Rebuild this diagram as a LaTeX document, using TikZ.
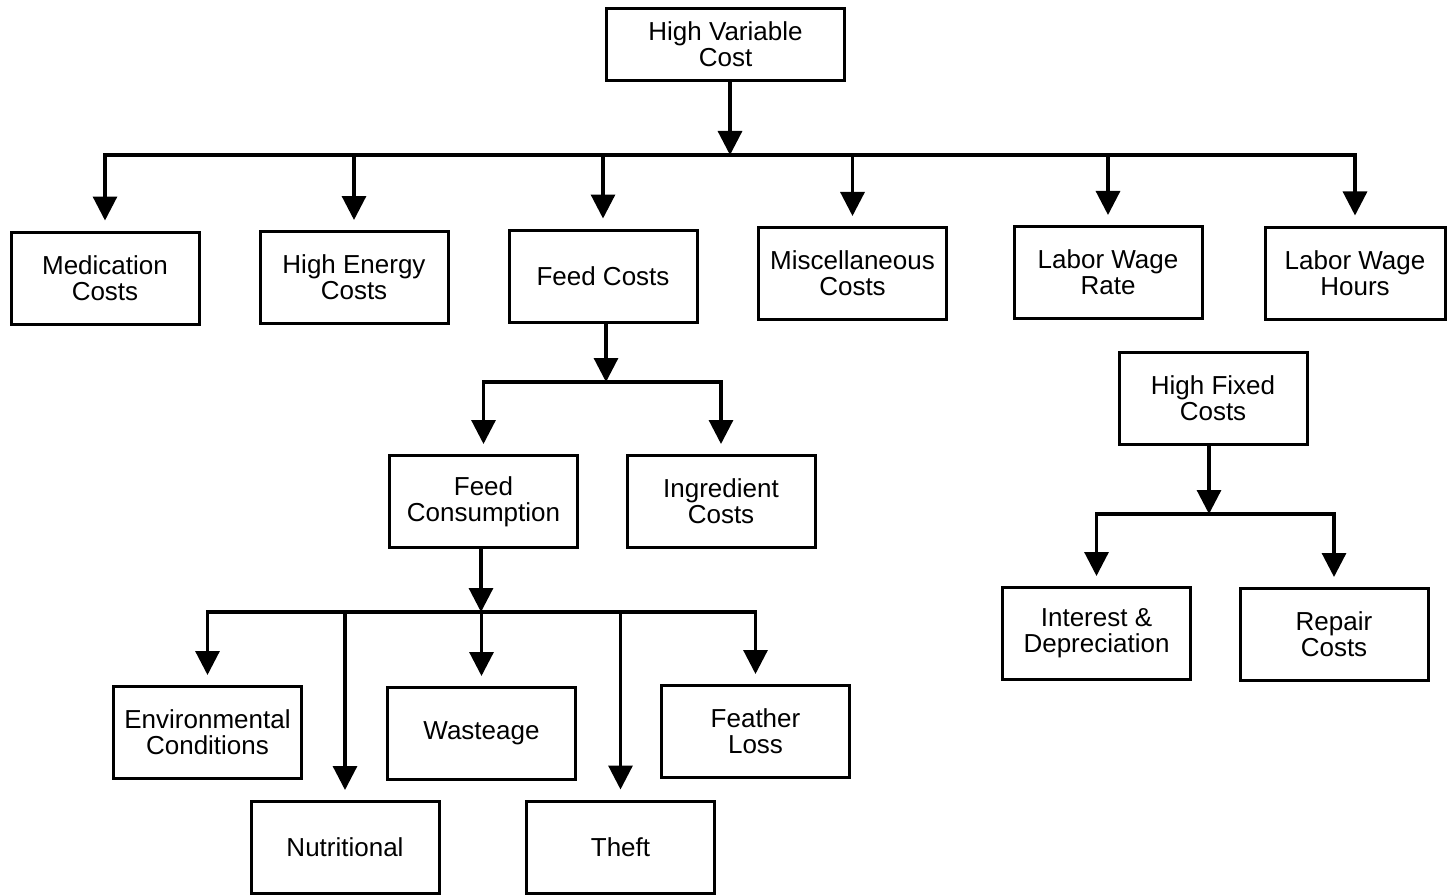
\documentclass[tikz,border=0pt]{standalone}
\usepackage{fontspec}
\setmainfont{Liberation Sans}
\usetikzlibrary{arrows.meta,calc}
\begin{document}
\begin{tikzpicture}[x=1pt,y=-1pt,
  box/.style={draw,line width=3pt,minimum width=188pt,minimum height=92pt,
    inner sep=0pt,align=center,font=\fontsize{26}{26}\selectfont},
  conn/.style={line width=3.2pt,line join=miter},
  arr/.style={conn,-{Triangle[length=24pt,width=24pt]}},
  arrg/.style={arr,shorten >=10pt},
  arrb/.style={conn,{Triangle[length=24pt,width=24pt]}-{Triangle[length=24pt,width=24pt]},shorten >=10pt,shorten <=10pt}]
\useasboundingbox (0,0) rectangle (1447,896);

% nodes
\node[box,minimum width=238pt,minimum height=72pt] (hvc) at (725.5,44.5) {High Variable\\Cost};
\node[box] (med) at (105,278) {Medication\\Costs};
\node[box] (hen) at (354,277.5) {High Energy\\Costs};
\node[box] (feed) at (603,276) {Feed Costs};
\node[box] (misc) at (852.5,273.5) {Miscellaneous\\Costs};
\node[box] (lwr) at (1108,272.5) {Labor Wage\\Rate};
\node[box,minimum width=180pt] (lwh) at (1355,273) {Labor Wage\\Hours};
\node[box] (hfc) at (1213,398.5) {High Fixed\\Costs};
\node[box] (fcons) at (483.5,501.5) {Feed\\Consumption};
\node[box] (ingr) at (721,501.5) {Ingredient\\Costs};
\node[box] (intd) at (1096.5,633.5) {Interest \&\\Depreciation};
\node[box] (rep) at (1334,634.5) {Repair\\Costs};
\node[box] (env) at (207.5,732.5) {Environmental\\Conditions};
\node[box] (was) at (481.5,733.5) {Wasteage};
\node[box] (fea) at (755.5,731.5) {Feather\\Loss};
\node[box] (nut) at (345,847.5) {Nutritional};
\node[box] (theft) at (620.5,847) {Theft};

% bus coordinates
\coordinate (b1) at (730,155);
\coordinate (b2) at (606,382);
\coordinate (b3) at (481,612);
\coordinate (b4) at (1209,514);

% level 1
\draw[arr] ([xshift=4.5pt]hvc.south) -- (b1);
\draw[arrb] (med.north) |- (b1) -| (lwh.north);
\foreach \n in {hen,feed,misc,lwr}
  \draw[arrg] (b1 -| \n.north) -- (\n.north);

% feed costs
\draw[arr] ([xshift=3pt]feed.south) -- (b2);
\draw[arrb] (fcons.north) |- (b2) -| (ingr.north);

% feed consumption
\draw[arr] ([xshift=-2.5pt]fcons.south) -- (b3);
\draw[arrb] (env.north) |- (b3) -| (fea.north);
\foreach \n in {nut,was,theft}
  \draw[arrg] (b3 -| \n.north) -- (\n.north);

% high fixed costs
\draw[arr] ([xshift=-4pt]hfc.south) -- (b4);
\draw[arrb] (intd.north) |- (b4) -| (rep.north);
\end{tikzpicture}
\end{document}
